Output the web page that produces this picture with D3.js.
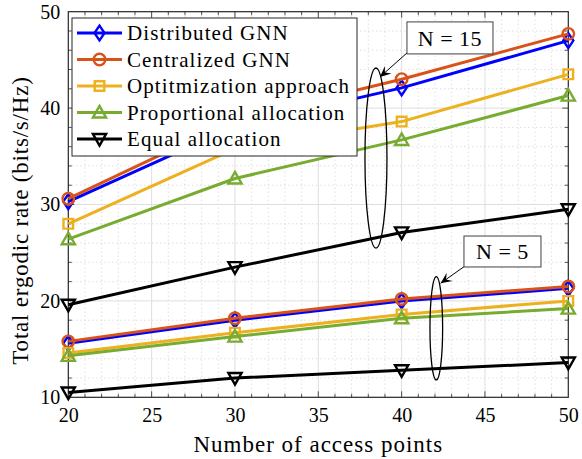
<!DOCTYPE html>
<html>
<head>
<meta charset="utf-8">
<script src="https://cdn.jsdelivr.net/npm/d3@7"></script>
<style>
  html, body { margin: 0; padding: 0; background: #fff; }
  svg { display: block; }
  text { font-family: "Liberation Serif", "Times New Roman", serif; fill: #000; }
</style>
</head>
<body>
<svg id="chart" width="582" height="459"></svg>
<script>
// ---------------- data ----------------
const accessPoints = [20, 30, 40, 50];
const seriesNames = ["Distributed GNN", "Centralized GNN", "Optitmization approach", "Proportional allocation", "Equal allocation"];
const seriesColors = ["#0000FF", "#D95319", "#EDB120", "#77AC30", "#000000"];
const seriesMarkers = ["diamond", "circle", "square", "triangle", "triangleDown"];

// N = 15
const distributedN15  = [30.3, 38.1, 42.1, 47.0];
const centralizedN15  = [30.6, 38.8, 43.0, 47.7];
const optimizationN15 = [28.0, 35.8, 38.6, 43.5];
const proportionalN15 = [26.4, 32.7, 36.7, 41.3];
const equalN15        = [19.6, 23.5, 27.1, 29.5];

// N = 5
const distributedN5  = [15.6, 18.0, 20.0, 21.3];
const centralizedN5  = [15.8, 18.2, 20.2, 21.5];
const optimizationN5 = [14.6, 16.7, 18.6, 20.0];
const proportionalN5 = [14.3, 16.3, 18.2, 19.2];
const equalN5        = [10.5, 12.0, 12.8, 13.6];

const xTicks = [20, 25, 30, 35, 40, 45, 50];
const yTicks = [10, 20, 30, 40, 50];
const xLabel = "Number of access points";
const yLabel = "Total ergodic rate (bits/s/Hz)";

// annotations in data coordinates
const annotN15 = { label: "N = 15", ellipse: [38.46, 34.82, 0.66, 9.34], box: [40.32, 45.48, 48.94, 45.62], arrow: [40.32, 45.72, 38.70, 43.23] };
const annotN5  = { label: "N = 5",  ellipse: [42.08, 17.16, 0.38, 5.36], box: [43.74, 48.36, 26.73, 23.52], arrow: [43.80, 23.62, 42.34, 21.83] };

const groups = [
  [distributedN15, distributedN5],
  [centralizedN15, centralizedN5],
  [optimizationN15, optimizationN5],
  [proportionalN15, proportionalN5],
  [equalN15, equalN5]
];

// ---------------- layout ----------------
const svg = d3.select("#chart");
const L = 68.3, R = 568.3, T = 11.7, B = 397.3;
const x = d3.scaleLinear().domain([20, 50]).range([L, R]);
const y = d3.scaleLinear().domain([10, 50]).range([B, T]);

// grid
const grid = svg.append("g");
const xMinor = d3.range(21, 50, 1).filter(v => v % 5 !== 0);
const yMinor = d3.range(12, 50, 2).filter(v => v % 10 !== 0);
grid.selectAll(".xm").data(xMinor).join("line")
  .attr("x1", d => x(d)).attr("x2", d => x(d)).attr("y1", T).attr("y2", B)
  .attr("stroke", "#c4c4c4").attr("stroke-width", 0.8).attr("stroke-dasharray", "1,3");
grid.selectAll(".ym").data(yMinor).join("line")
  .attr("y1", d => y(d)).attr("y2", d => y(d)).attr("x1", L).attr("x2", R)
  .attr("stroke", "#c4c4c4").attr("stroke-width", 0.8).attr("stroke-dasharray", "1,3");
grid.selectAll(".xM").data(xTicks.slice(1, -1)).join("line")
  .attr("x1", d => x(d)).attr("x2", d => x(d)).attr("y1", T).attr("y2", B)
  .attr("stroke", "#dedede").attr("stroke-width", 1);
grid.selectAll(".yM").data(yTicks.slice(1, -1)).join("line")
  .attr("y1", d => y(d)).attr("y2", d => y(d)).attr("x1", L).attr("x2", R)
  .attr("stroke", "#dedede").attr("stroke-width", 1);

// axes
const fs = 20;
const xAxisB = d3.axisBottom(x).tickValues(xTicks).tickSize(0).tickPadding(14);
const gx = svg.append("g").attr("transform", `translate(0,${B})`).call(xAxisB);
gx.select(".domain").remove();
gx.selectAll("text").style("font-family", "Liberation Serif").style("font-size", fs + "px").attr("dy", "0.55em");
const yAxisL = d3.axisLeft(y).tickValues(yTicks).tickSize(0).tickPadding(8);
const gy = svg.append("g").attr("transform", `translate(${L},0)`).call(yAxisL);
gy.select(".domain").remove();
gy.selectAll("text").style("font-family", "Liberation Serif").style("font-size", fs + "px");

// ticks inward
const ticks = svg.append("g").attr("stroke", "#262626").attr("stroke-width", 0.8);
const xAll = d3.range(21, 50, 1);
xAll.forEach(v => {
  const len = v % 5 === 0 ? 6 : 3.5;
  ticks.append("line").attr("x1", x(v)).attr("x2", x(v)).attr("y1", B).attr("y2", B - len);
  ticks.append("line").attr("x1", x(v)).attr("x2", x(v)).attr("y1", T).attr("y2", T + len);
});
d3.range(12, 50, 2).forEach(v => {
  const len = v % 10 === 0 ? 6 : 3.5;
  ticks.append("line").attr("y1", y(v)).attr("y2", y(v)).attr("x1", L).attr("x2", L + len);
  ticks.append("line").attr("y1", y(v)).attr("y2", y(v)).attr("x1", R).attr("x2", R - len);
});

// frame
svg.append("rect").attr("x", L).attr("y", T).attr("width", R - L).attr("height", B - T)
  .attr("fill", "none").attr("stroke", "#262626").attr("stroke-width", 1.2);

// markers
function markerPath(type, s) {
  switch (type) {
    case "diamond": return `M0,${-s*0.62}L${s*0.42},0L0,${s*0.62}L${-s*0.42},0Z`;
    case "circle": return d3.symbol(d3.symbolCircle, Math.PI * (s*0.48) ** 2)();
    case "square": return `M${-s*0.4},${-s*0.4}H${s*0.4}V${s*0.4}H${-s*0.4}Z`;
    case "triangle": return `M0,${-s*0.55}L${s*0.55},${s*0.42}L${-s*0.55},${s*0.42}Z`;
    case "triangleDown": return `M0,${s*0.55}L${s*0.55},${-s*0.42}L${-s*0.55},${-s*0.42}Z`;
  }
}
const mSize = 12;
const line = d3.line().x((d, i) => x(accessPoints[i])).y(d => y(d));
const plot = svg.append("g");
groups.forEach((pair, si) => {
  pair.forEach(vals => {
    plot.append("path").attr("d", line(vals)).attr("fill", "none")
      .attr("stroke", seriesColors[si]).attr("stroke-width", 3).attr("stroke-linejoin", "round");
    plot.selectAll(null).data(vals).join("path")
      .attr("transform", (d, i) => `translate(${x(accessPoints[i])},${y(d)})`)
      .attr("d", markerPath(seriesMarkers[si], mSize))
      .attr("fill", "none").attr("stroke", seriesColors[si]).attr("stroke-width", 2.4);
  });
});

// annotations
const ann = svg.append("g");
[annotN15, annotN5].forEach(a => {
  const [cx, cy, rx, ry] = a.ellipse;
  ann.append("ellipse").attr("cx", x(cx)).attr("cy", y(cy))
    .attr("rx", x(cx + rx) - x(cx)).attr("ry", y(cy) - y(cy + ry))
    .attr("fill", "none").attr("stroke", "#000").attr("stroke-width", 1.3);
  const [x1, y1, x2, y2] = a.arrow;
  const px1 = x(x1), py1 = y(y1), px2 = x(x2), py2 = y(y2);
  ann.append("line").attr("x1", px1).attr("y1", py1).attr("x2", px2).attr("y2", py2)
    .attr("stroke", "#000").attr("stroke-width", 1);
  const ang = Math.atan2(py2 - py1, px2 - px1);
  const hl = 11, hw = 5;
  const bx = px2 - hl * Math.cos(ang), by = py2 - hl * Math.sin(ang);
  const nx = -Math.sin(ang), ny = Math.cos(ang);
  const mx = px2 - hl * 0.6 * Math.cos(ang), my = py2 - hl * 0.6 * Math.sin(ang);
  ann.append("path")
    .attr("d", `M${px2},${py2}L${bx + nx*hw},${by + ny*hw}L${mx},${my}L${bx - nx*hw},${by - ny*hw}Z`)
    .attr("fill", "#000");
  const [bx1, bx2, by1, by2] = a.box;
  ann.append("rect").attr("x", x(bx1)).attr("y", y(by1))
    .attr("width", x(bx2) - x(bx1)).attr("height", y(by2) - y(by1))
    .attr("fill", "#fff").attr("stroke", "#404040").attr("stroke-width", 1);
  ann.append("text").attr("x", (x(bx1) + x(bx2)) / 2).attr("y", (y(by1) + y(by2)) / 2)
    .attr("text-anchor", "middle").attr("dy", "0.36em")
    .style("font-size", "22px").style("letter-spacing", "0.5px").text(a.label);
});

// legend
const lg = svg.append("g");
lg.append("rect").attr("x", 72).attr("y", 18).attr("width", 285).attr("height", 138)
  .attr("fill", "#fff").attr("stroke", "#262626").attr("stroke-width", 1);
seriesNames.forEach((name, i) => {
  const yy = 33 + i * 26.5;
  lg.append("line").attr("x1", 77).attr("x2", 122).attr("y1", yy).attr("y2", yy)
    .attr("stroke", seriesColors[i]).attr("stroke-width", 3);
  lg.append("path").attr("transform", `translate(99.5,${yy})`).attr("d", markerPath(seriesMarkers[i], mSize))
    .attr("fill", "none").attr("stroke", seriesColors[i]).attr("stroke-width", 2.4);
  lg.append("text").attr("x", 127).attr("y", yy).attr("dy", "0.35em")
    .style("font-size", "21px").style("letter-spacing", "1.1px").text(name);
});

// axis labels
svg.append("text").attr("x", (L + R) / 2).attr("y", 452).attr("text-anchor", "middle")
  .style("font-size", "23px").style("letter-spacing", "1px").text(xLabel);
svg.append("text").attr("transform", `translate(28,${(T + B) / 2 + 16}) rotate(-90)`).attr("text-anchor", "middle")
  .style("font-size", "23px").style("letter-spacing", "0.8px").text(yLabel);
</script>
</body>
</html>
